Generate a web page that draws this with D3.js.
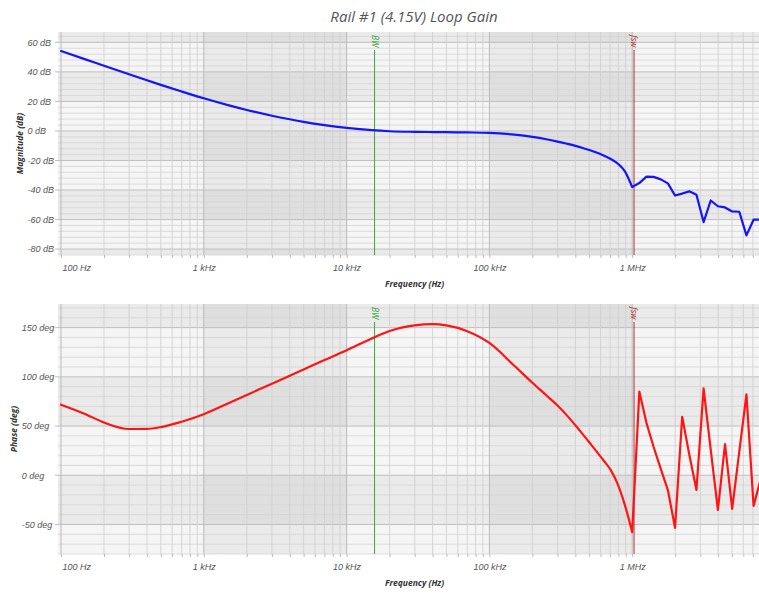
<!doctype html>
<html lang="en">
<head>
	<meta charset="UTF-8">
	<title>Rail #1 Loop Gain</title>
	<script src="https://cdn.jsdelivr.net/npm/d3@7"></script>
	<style>
		body { margin: 0; background: #fff; font-family: "Open Sans", sans-serif; }
		.tick text { font-style: italic; fill: #555; font-size: 9px; }
		.axis-title { font-style: italic; font-weight: bold; fill: #333; font-size: 8.5px; }
	</style>
</head>
<body>
<svg width="759" height="594"></svg>
<script>
var freq = [100, 150, 200, 300, 400, 500, 700, 1000, 1500, 2000, 3000, 4000, 5000, 7000,
	10000, 15000, 20000, 30000, 40000, 50000, 70000, 100000, 150000, 200000, 250000, 300000,
	350000, 400000, 450000, 500000, 562000, 631000, 708000, 794000, 891000, 1000000,
	1122000, 1259000, 1413000, 1585000, 1778000, 1995000, 2239000, 2512000, 2818000,
	3162000, 3548000, 3981000, 4467000, 5012000, 5623000, 6310000, 7079000, 7943000, 8913000];

var magDb = [54.1, 48.3, 44.2, 38.4, 34.3, 31.2, 26.7, 22.1, 17.3, 14.2, 10.3, 7.9, 6.2, 4.0,
	2.1, 0.5, -0.2, -0.6, -0.75, -0.85, -1.0, -1.3, -2.5, -4.0, -5.6, -7.2,
	-8.7, -10.1, -11.5, -12.9, -14.6, -16.6, -19.0, -22.2, -27.5, -38.0,
	-35.3, -30.9, -31.1, -32.8, -35.5, -43.7, -42.4, -40.9, -43.2,
	-61.7, -47.1, -51.0, -51.8, -54.5, -54.7, -70.7, -60.1, -60.1, -60.5];

var phaseDeg = [71.7, 61.8, 53.6, 47.0, 47.1, 48.9, 54.4, 62, 73.4, 81.6, 93, 101.2, 107.5, 117,
	127, 139, 146.6, 152.3, 153.5, 152.3, 146.4, 134.4, 111, 94, 81.3, 70.8,
	60.6, 50.8, 41.8, 33.5, 24.3, 15, 5.2, -9.5, -30.8, -57.8,
	85, 53, 28.7, 6.4, -15, -53.4, 59.4, 20.9, -14.9,
	88.2, 25.7, -35.2, 31.7, -34.2, 24.1, 82.1, -31.1, -4, 30];

var xTickValues = [100, 1000, 10000, 100000, 1000000];
var xTickLabels = ['100 Hz', '1 kHz', '10 kHz', '100 kHz', '1 MHz'];
var magTicks = [60, 40, 20, 0, -20, -40, -60, -80];
var phaseTicks = [150, 100, 50, 0, -50];

var bwFreq = 15700;
var fswFreq = 1030000;

var svg = d3.select('svg');
var plotL = 58, plotR = 771;
// index of 1 MHz: smooth below, straight segments above
var splitIdx = freq.indexOf(1000000);

var x = d3.scaleLog().domain([100, 1e6]).range([61, 632.2]);

svg.append('text')
	.attr('x', 414).attr('y', 22)
	.attr('text-anchor', 'middle')
	.style('font-style', 'italic').style('font-size', '15px').style('fill', '#555')
	.text('Rail #1 (4.15V) Loop Gain');

var panels = [
	{ id: 'mag', top: 32, bottom: 255, domain: [-84, 67], major: 20, minor: 4, ticks: magTicks,
		unit: ' dB', values: magDb, color: '#1414ff', title: 'Magnitude (dB)', labelX: 27.5, titleX: 20 },
	{ id: 'phase', top: 304, bottom: 554, domain: [-80, 174], major: 50, minor: 10, ticks: phaseTicks,
		unit: ' deg', values: phaseDeg, color: '#ff1414', title: 'Phase (deg)', labelX: 21.7, titleX: 14 }
];

var decades = [100, 1e3, 1e4, 1e5, 1e6, 1e7];

panels.forEach(function(p) {
	var y = d3.scaleLinear().domain(p.domain).range([p.bottom, p.top]);
	var g = svg.append('g');

	svg.append('clipPath').attr('id', 'clip-' + p.id)
		.append('rect')
		.attr('x', plotL).attr('y', p.top)
		.attr('width', plotR - plotL).attr('height', p.bottom - p.top);

	g.append('rect')
		.attr('x', plotL).attr('y', p.top)
		.attr('width', plotR - plotL).attr('height', p.bottom - p.top)
		.attr('fill', '#f5f5f5');

	// alternating bands, odd index = darker
	var k0 = Math.floor(p.domain[0] / p.major), k1 = Math.ceil(p.domain[1] / p.major);
	d3.range(k0, k1).forEach(function(k) {
		if (Math.abs(k % 2) !== 1) return;
		var lo = Math.max(k * p.major, p.domain[0]), hi = Math.min((k + 1) * p.major, p.domain[1]);
		g.append('rect')
			.attr('x', plotL).attr('y', y(hi))
			.attr('width', plotR - plotL).attr('height', y(lo) - y(hi))
			.attr('fill', 'rgba(0,0,0,0.045)');
	});
	decades.forEach(function(d) {
		var k = Math.round(Math.log10(d));
		if (k % 2 !== 1) return;
		var x0 = Math.max(x(d), plotL), x1 = Math.min(x(d * 10), plotR);
		g.append('rect')
			.attr('x', x0).attr('y', p.top)
			.attr('width', x1 - x0).attr('height', p.bottom - p.top)
			.attr('fill', 'rgba(0,0,0,0.045)');
	});

	// horizontal grid
	var hMinor = d3.range(Math.ceil(p.domain[0] / p.minor) * p.minor, p.domain[1], p.minor)
		.filter(function(v) { return v % p.major !== 0; });
	var hMajor = d3.range(Math.ceil(p.domain[0] / p.major) * p.major, p.domain[1], p.major);
	g.selectAll('line.hminor').data(hMinor).enter().append('line')
		.attr('x1', plotL).attr('x2', plotR)
		.attr('y1', function(v) { return y(v); }).attr('y2', function(v) { return y(v); })
		.attr('stroke', '#d4d4d4').attr('stroke-width', 0.8);
	g.selectAll('line.hmajor').data(hMajor).enter().append('line')
		.attr('x1', plotL - 3).attr('x2', plotR)
		.attr('y1', function(v) { return y(v); }).attr('y2', function(v) { return y(v); })
		.attr('stroke', '#bfbfbf').attr('stroke-width', 1);

	// vertical grid
	var vMinor = [], vMajor = [];
	decades.forEach(function(d) {
		vMajor.push(d);
		for (var m = 2; m <= 9; m++) vMinor.push(d * m);
	});
	vMinor = vMinor.filter(function(f) { return x(f) > plotL && x(f) < plotR; });
	vMajor = vMajor.filter(function(f) { return x(f) > plotL && x(f) < plotR; });
	g.selectAll('line.vminor').data(vMinor).enter().append('line')
		.attr('y1', p.top).attr('y2', p.bottom)
		.attr('x1', function(f) { return x(f); }).attr('x2', function(f) { return x(f); })
		.attr('stroke', '#cecece').attr('stroke-width', 0.8);
	g.selectAll('line.vmajor').data(vMajor).enter().append('line')
		.attr('y1', p.top).attr('y2', p.bottom)
		.attr('x1', function(f) { return x(f); }).attr('x2', function(f) { return x(f); })
		.attr('stroke', '#bababa').attr('stroke-width', 1);

	// x axis
	var xa = g.append('g')
		.attr('class', 'x-axis')
		.attr('transform', 'translate(0,' + p.bottom + ')')
		.call(d3.axisBottom(x).tickValues(vMinor.concat(vMajor)).tickSize(3).tickSizeOuter(0)
			.tickFormat(function(f) {
				var i = xTickValues.indexOf(f);
				return i < 0 ? '' : xTickLabels[i];
			}));
	xa.select('.domain').remove();
	xa.selectAll('.tick line').attr('stroke', '#bbb');
	xa.selectAll('.tick text').attr('y', 10);
	xa.selectAll('.tick').filter(function(f) { return f === 100; })
		.select('text').attr('text-anchor', 'start').attr('x', 1);

	svg.append('text')
		.attr('class', 'axis-title')
		.attr('x', 414.5).attr('y', p.bottom + 32)
		.attr('text-anchor', 'middle')
		.text('Frequency (Hz)');

	// y axis
	var ya = g.append('g')
		.attr('transform', 'translate(' + plotL + ',0)')
		.call(d3.axisLeft(y).tickValues(p.ticks).tickSize(0)
			.tickFormat(function(v) { return v + p.unit; }));
	ya.select('.domain').remove();
	ya.selectAll('.tick text')
		.attr('text-anchor', 'start')
		.attr('x', p.labelX - plotL);

	svg.append('text')
		.attr('class', 'axis-title')
		.attr('transform', 'translate(' + p.titleX + ',' + ((p.top + p.bottom) / 2) + ') rotate(-90)')
		.attr('text-anchor', 'middle')
		.attr('dy', '0.35em')
		.text(p.title);

	// markers
	[{ f: bwFreq, label: 'BW', color: '#3aa63a' }, { f: fswFreq, label: 'fsw', color: '#b03232' }]
		.forEach(function(mk) {
			g.append('line')
				.attr('x1', x(mk.f)).attr('x2', x(mk.f))
				.attr('y1', p.top + 18).attr('y2', p.bottom)
				.attr('stroke', mk.color).attr('stroke-width', 1);
			g.append('text')
				.attr('transform', 'translate(' + x(mk.f) + ',' + (p.top + 3) + ') rotate(90)')
				.attr('dy', '0.35em')
				.style('font-size', '8.5px').style('font-style', 'italic')
				.attr('fill', mk.color)
				.text(mk.label);
		});

	var pts = p.values.map(function(v, i) { return [x(freq[i]), y(v)]; });
	var smooth = d3.line().curve(d3.curveMonotoneX);
	var sharp = d3.line();

	g.append('path')
		.attr('clip-path', 'url(#clip-' + p.id + ')')
		.attr('fill', 'none')
		.attr('stroke', p.color)
		.attr('stroke-width', 2.2)
		.attr('stroke-linejoin', 'round')
		.attr('stroke-linecap', 'round')
		.attr('d', smooth(pts.slice(0, splitIdx + 1)) + sharp(pts.slice(splitIdx)).replace(/^M/, 'L'));
});
</script>
</body>
</html>
